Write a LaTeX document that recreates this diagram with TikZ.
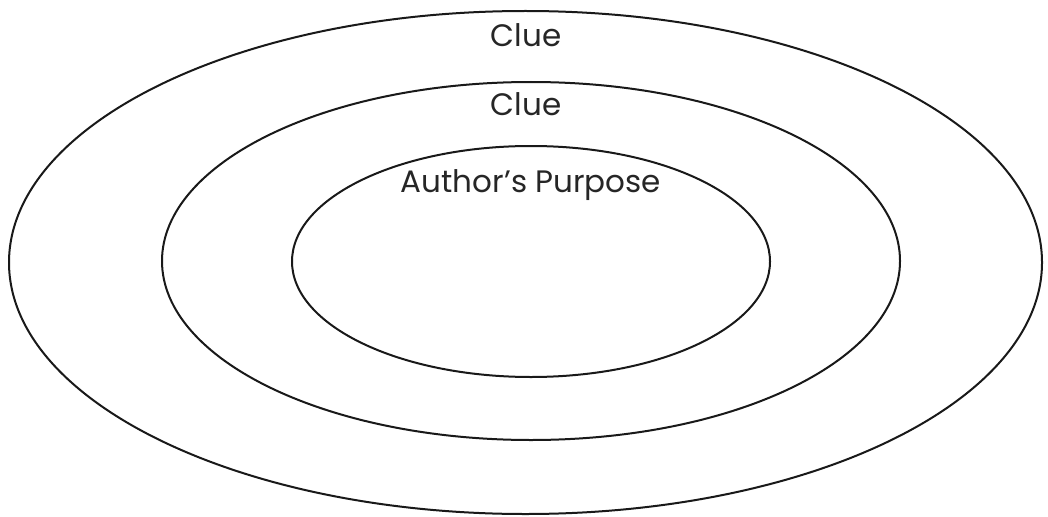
\documentclass[tikz,border=0pt]{standalone}
\usepackage{fontspec}
\setmainfont{Poppins}
\usetikzlibrary{shapes.geometric}
\tikzset{
  ring/.style={draw=black!90, line width=2pt, ellipse, inner sep=0pt},
  lbl/.style={anchor=base, inner sep=0pt, font=\fontsize{31}{34}\selectfont, text=black!85}
}
\begin{document}
\begin{tikzpicture}[x=1pt,y=-1pt]
\useasboundingbox (0,0) rectangle (1048,516);
\node[ring, minimum width=1033pt, minimum height=503pt] (outer) at (525.5,262.5) {};
\node[ring, minimum width=738pt, minimum height=358pt] (middle) at (531,261) {};
\node[ring, minimum width=478pt, minimum height=231pt] (inner) at (531,261.5) {};
\node[lbl] (clueA) at (526,47) {Clue};
\node[lbl] (clueB) at (526,116) {Clue};
\node[lbl] (purpose) at (531,192) {Author’s Purpose};
\end{tikzpicture}
\end{document}
